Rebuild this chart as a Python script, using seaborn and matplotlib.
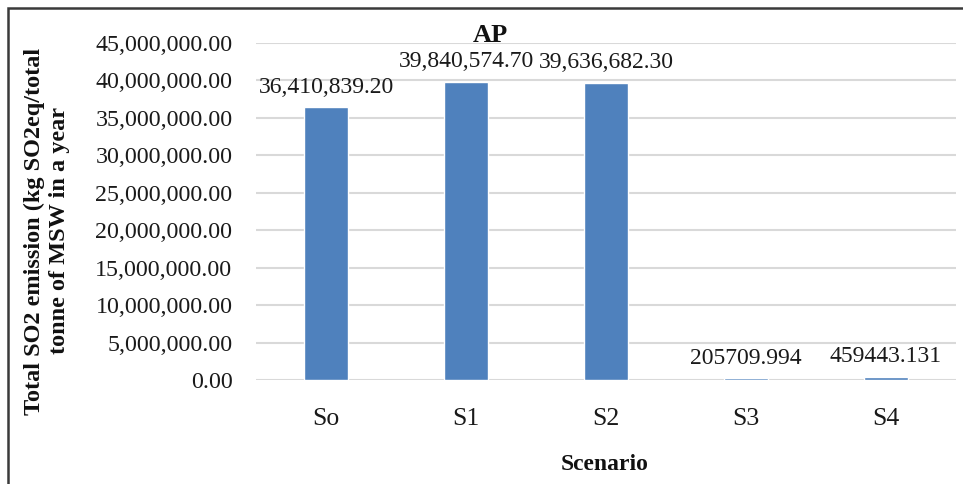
import matplotlib
matplotlib.use("Agg")
import matplotlib.pyplot as plt
import matplotlib.patches as mpatches
import seaborn as sns
import pandas as pd
from matplotlib.ticker import FuncFormatter, MultipleLocator

scenarios = ["So", "S1", "S2", "S3", "S4"]
emissions = [36410839.20, 39840574.70, 39636682.30, 205709.994, 459443.131]
label_texts = ["36,410,839.20", "39,840,574.70", "39,636,682.30", "205709.994", "459443.131"]

sns.set_theme(style="white")
plt.rcParams["font.family"] = ["Liberation Serif", "DejaVu Serif"]

W, H = 963, 484
fig = plt.figure(figsize=(W / 100, H / 100), dpi=100)
ax = fig.add_axes([256 / W, 1 - 380 / H, 700 / W, 337 / H])

df = pd.DataFrame({"Scenario": scenarios, "Emission": emissions})
sns.barplot(data=df, x="Scenario", y="Emission", color="#4F81BD", width=0.31,
            saturation=1, ax=ax, zorder=3)

ax.set_ylim(0, 45_000_000)
ax.set_xlim(-0.5, 4.5)
ax.yaxis.set_major_locator(MultipleLocator(5_000_000))
ax.yaxis.set_major_formatter(FuncFormatter(lambda v, p: f"{v:,.2f}"))
ax.grid(axis="y", color="#D9D9D9", linewidth=1.5, zorder=0)
ax.grid(axis="x", visible=False)
ax.set_axisbelow(True)
for s in ax.spines.values():
    s.set_visible(False)
ax.tick_params(axis="y", length=0, pad=17, labelsize=17.3, labelcolor="#1a1a1a")
ax.tick_params(axis="x", length=0, pad=20, labelsize=18.5, labelcolor="#1a1a1a")
ax.set_xlabel("")
ax.set_ylabel("")

ax.bar_label(ax.containers[0], labels=label_texts, padding=7, fontsize=17, color="#1a1a1a")

fig.text(490 / W, 1 - 36 / H, "AP", ha="center", va="center", fontsize=19,
         fontweight="bold", color="#111111")
fig.text(47 / W, 1 - 231 / H, "Total SO2 emission (kg SO2eq/total\ntonne of MSW in a year",
         rotation=90, ha="center", va="center", multialignment="center",
         fontsize=17.5, fontweight="bold", color="#111111", linespacing=1.2)
fig.text(605 / W, 1 - 464 / H, "Scenario", ha="center", va="center", fontsize=17,
         fontweight="bold", color="#111111")

border = mpatches.Rectangle((8 / W, -0.05), 1.1, 1 - 8 / H + 0.05, transform=fig.transFigure,
                            fill=False, edgecolor="#3a3a3a", linewidth=1.8)
fig.patches.append(border)

fig.savefig("out.png", dpi=100)
